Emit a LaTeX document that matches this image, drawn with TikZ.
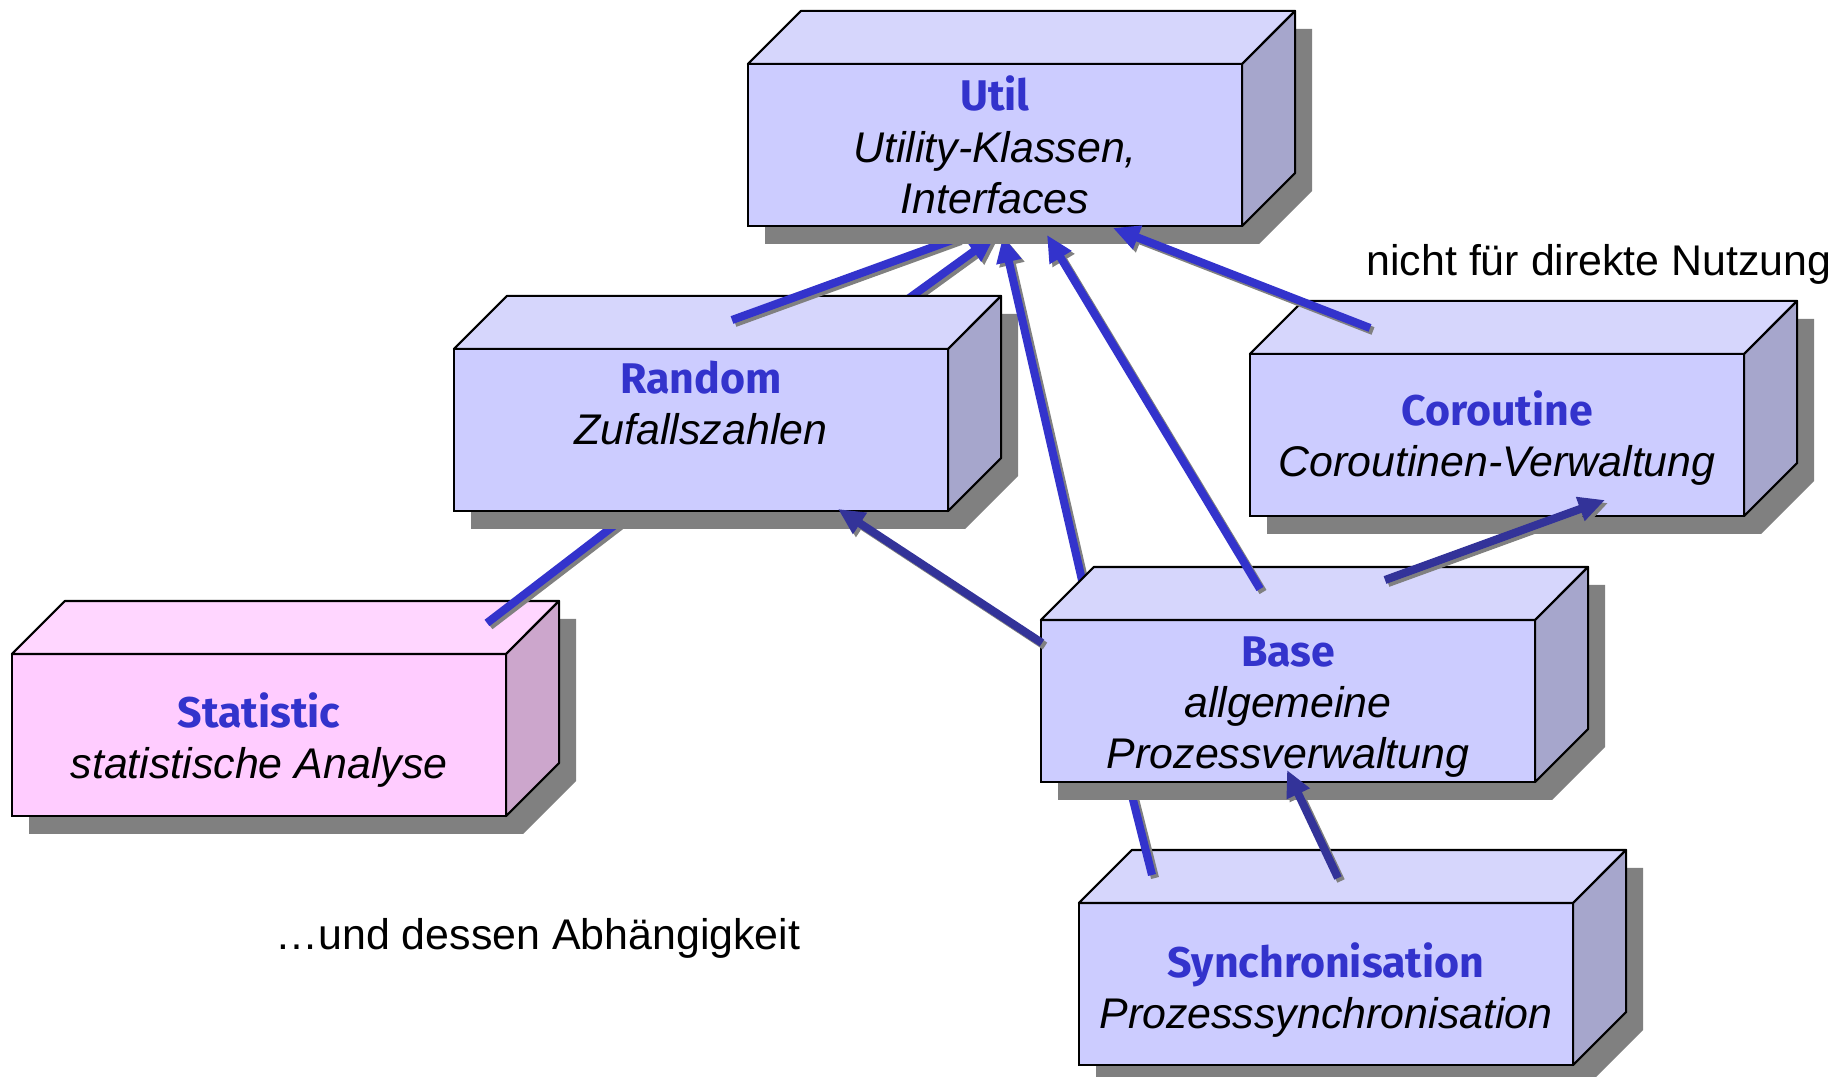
\documentclass[tikz,border=0pt]{standalone}
\usepackage{fontspec}
\setmainfont{Liberation Sans}
\newfontfamily\ttlfont{Fira Sans}
\usetikzlibrary{arrows.meta,calc}
\definecolor{frontblue}{HTML}{CCCCFF}
\definecolor{topblue}{HTML}{D6D6FC}
\definecolor{sideblue}{HTML}{A6A6CC}
\definecolor{frontpink}{HTML}{FFCCFF}
\definecolor{toppink}{HTML}{FFD6FF}
\definecolor{sidepink}{HTML}{CCA6CC}
\definecolor{shadowgray}{HTML}{808080}
\definecolor{titleblue}{HTML}{3333CC}
\definecolor{arrbright}{HTML}{3333CC}
\definecolor{arrdark}{HTML}{333399}
\newcommand\ttl[1]{{\ttlfont\bfseries\color{titleblue}#1}}
\newcommand\subt[1]{\textit{#1}}
\tikzset{
  boxface/.style={draw=black, line width=0.6pt, minimum width=4.94cm, minimum height=1.62cm,
    inner sep=0pt, outer sep=0pt},
  boxtext/.style={inner sep=0pt, align=center, font=\fontsize{12.2}{14.6}\selectfont},
  boxedge/.style={draw=black, line width=0.6pt, line join=round},
  conn/.style={line width=2.3pt, -{Triangle[length=7.5pt,width=6.8pt]}},
  connsh/.style={conn, draw=shadowgray, transform canvas={shift={(3,3)}}},
  line/.style={line width=2.3pt},
  linesh/.style={line, draw=shadowgray, transform canvas={shift={(3,3)}}},
  plain/.style={font=\fontsize{12.2}{14.6}\selectfont, inner sep=0pt}
}
% #1 name, #2 x, #3 y, #4 front, #5 top, #6 side, #7 text, #8 text shift
\newcommand\dbox[8]{%
  \fill[shadowgray, shift={(#2+17,#3+18)}] (-247,81) -- (-247,-81) -- (-194,-134) -- (300,-134) -- (300,28) -- (247,81) -- cycle;
  \node[boxface, fill=#4] (#1) at (#2,#3) {};
  \node[boxtext] (#1-t) at ($(#1.center)+(0,#8)$) {#7};
  \filldraw[boxedge, fill=#5] (#1.north west) -- ++(53,-53) -- ++(494,0) -- (#1.north east) -- cycle;
  \filldraw[boxedge, fill=#6] (#1.north east) -- ++(53,-53) -- ++(0,162) -- (#1.south east) -- cycle;
}
\newcommand\dep[3]{\draw[connsh] (#2) -- (#3); \draw[conn, draw=#1] (#2) -- (#3);}
\newcommand\depl[3]{\draw[linesh] (#2) -- (#3); \draw[line, draw=#1] (#2) -- (#3);}
\begin{document}
\begin{tikzpicture}[x=0.01cm, y=-0.01cm]
\useasboundingbox (0,0) rectangle (1846,1077);
% connector end points
\coordinate (a0) at (732,320);  \coordinate (a1) at (958,238);
\coordinate (b0) at (890,312);  \coordinate (b1) at (995,236);
\coordinate (c0) at (1087,602); \coordinate (c1) at (1003,236);
\coordinate (d0) at (1260,589); \coordinate (d1) at (1047,235);
\coordinate (e0) at (1370,328); \coordinate (e1) at (1113,228);
\coordinate (f0) at (1042,643); \coordinate (f1) at (838,509);
\coordinate (g0) at (1385,580); \coordinate (g1) at (1605,500);
\coordinate (h0) at (487,623);  \coordinate (h1) at (624,518);
\coordinate (i0) at (1152,875); \coordinate (i1) at (1130,788);
\coordinate (j0) at (1338,878); \coordinate (j1) at (1287,770);

\dbox{stat}{259}{735}{frontpink}{toppink}{sidepink}{\ttl{Statistic}\\\subt{statistische Analyse}}{5}
\dep{arrbright}{b0}{b1}
\depl{arrbright}{h0}{h1}
\dbox{rand}{701}{430}{frontblue}{topblue}{sideblue}{\ttl{Random}\\\subt{Zufallszahlen}\\\strut}{6}
\depl{arrbright}{a0}{a1}
\dep{arrbright}{c0}{c1}
\dbox{sync}{1326}{984}{frontblue}{topblue}{sideblue}{\ttl{Synchronisation}\\\subt{Prozesssynchronisation}}{6}
\depl{arrbright}{i0}{i1}
\dbox{base}{1288}{701}{frontblue}{topblue}{sideblue}{\ttl{Base}\\\subt{allgemeine}\\\subt{Prozessverwaltung}}{6}
\dbox{util}{995}{145}{frontblue}{topblue}{sideblue}{\ttl{Util}\\\subt{Utility-Klassen,}\\\subt{Interfaces}}{0}
\dbox{coro}{1497}{435}{frontblue}{topblue}{sideblue}{\ttl{Coroutine}\\\subt{Coroutinen-Verwaltung}}{3}
\dep{arrbright}{d0}{d1}
\dep{arrbright}{e0}{e1}
\dep{arrdark}{f0}{f1}
\dep{arrdark}{g0}{g1}
\dep{arrdark}{j0}{j1}

\node[plain] (nfd) at (1599,264) {nicht für direkte Nutzung};
\node[plain] (abh) at (538,938) {…und dessen Abhängigkeit};
\end{tikzpicture}
\end{document}
